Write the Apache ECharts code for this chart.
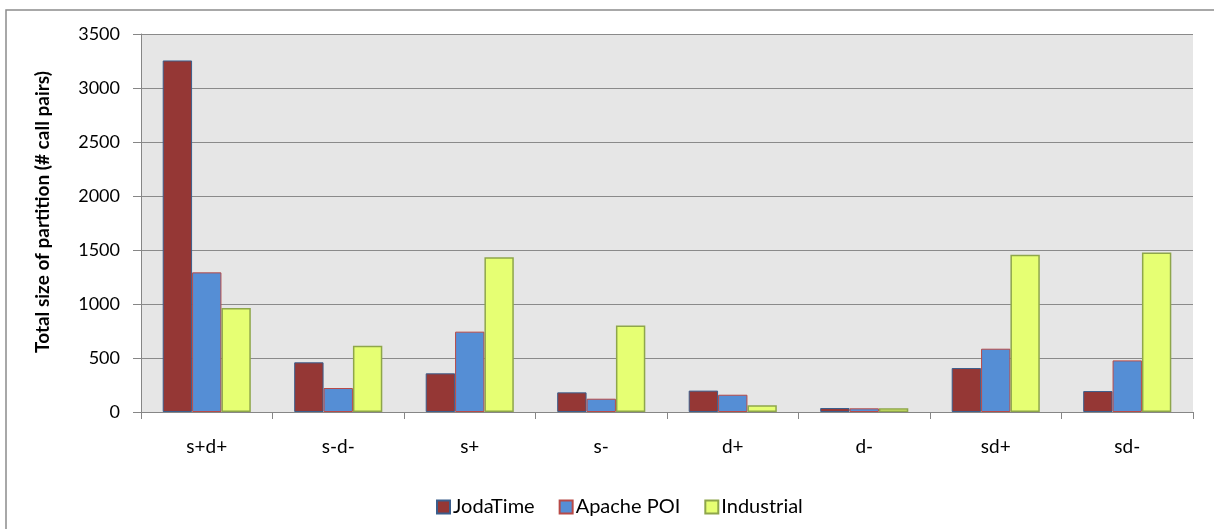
<!DOCTYPE html>
<html>
<head>
<meta charset="utf-8">
<script src="https://cdn.jsdelivr.net/npm/echarts@6/dist/echarts.min.js"></script>
<style>
html,body{margin:0;padding:0;background:#fff;}
#chart{width:1214px;height:529px;}
</style>
</head>
<body>
<div id="chart"></div>
<script>
var categories = ['s+d+', 's-d-', 's+', 's-', 'd+', 'd-', 'sd+', 'sd-'];
var jodaTime = [3255, 460, 358, 182, 198, 37, 407, 194];
var apachePOI = [1293, 222, 744, 123, 160, 34, 586, 478];
var industrial = [963, 614, 1432, 802, 62, 35, 1457, 1478];
var yTicks = [0, 500, 1000, 1500, 2000, 2500, 3000, 3500];
var yTitle = 'Total size of partition (# call pairs)';

var FONT = 'Lato, "Open Sans", sans-serif';
var chart = echarts.init(document.getElementById('chart'), null, {renderer: 'canvas'});
var option = {
  animation: false,
  backgroundColor: '#ffffff',
  graphic: [{
    type: 'rect',
    shape: {x: 6, y: 10, width: 1300, height: 600},
    style: {fill: 'none', stroke: '#8c8c8c', lineWidth: 1.5},
    silent: true,
    z: -1
  }, {
    type: 'text',
    x: 43, y: 212,
    rotation: Math.PI / 2,
    style: {
      text: yTitle, x: 0, y: 0, align: 'center', verticalAlign: 'middle',
      fontFamily: FONT, fontSize: 19, fontWeight: 'bold', fill: '#000'
    },
    silent: true
  }],
  grid: {
    left: 141, right: 21, top: 34, bottom: 117,
    show: true, backgroundColor: '#e6e6e6', borderWidth: 0
  },
  legend: {
    data: ['JodaTime', 'Apache POI', 'Industrial'],
    left: 431, top: 492,
    icon: 'rect', itemWidth: 13, itemHeight: 13, itemGap: 24,
    textStyle: {fontFamily: FONT, fontSize: 20, color: '#000', padding: [0, 0, 0, -2]}
  },
  xAxis: {
    type: 'category',
    data: categories,
    axisLine: {lineStyle: {color: '#868686', width: 1}},
    axisTick: {show: true, length: 7, lineStyle: {color: '#868686'}},
    axisLabel: {fontFamily: FONT, fontSize: 19, color: '#000', margin: 25}
  },
  yAxis: {
    type: 'value',
    min: yTicks[0], max: yTicks[yTicks.length - 1], interval: 500,
    axisLine: {show: true, lineStyle: {color: '#868686', width: 1}},
    axisTick: {show: true, length: 8, lineStyle: {color: '#868686'}},
    axisLabel: {fontFamily: FONT, fontSize: 18, color: '#000', margin: 21,
      formatter: function (v) { return String(v); }},
    splitLine: {lineStyle: {color: '#8a8a8a', width: 1}}
  },
  series: [
    {name: 'JodaTime', type: 'bar', data: jodaTime, barGap: '0%', barCategoryGap: '33%',
     itemStyle: {color: '#953735', borderColor: '#3b5e8c', borderWidth: 1}},
    {name: 'Apache POI', type: 'bar', data: apachePOI, barGap: '0%', barCategoryGap: '33%',
     itemStyle: {color: '#558ed5', borderColor: '#b84a47', borderWidth: 1}},
    {name: 'Industrial', type: 'bar', data: industrial, barGap: '0%', barCategoryGap: '33%',
     itemStyle: {color: '#e6ff73', borderColor: '#8ea64b', borderWidth: 1.5}}
  ]
};
chart.setOption(option);
</script>
</body>
</html>
